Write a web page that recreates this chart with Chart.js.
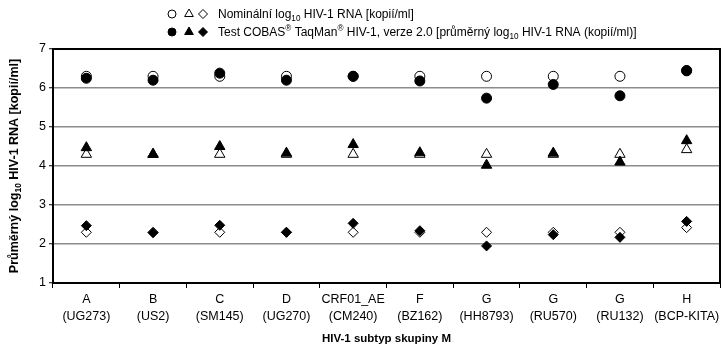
<!DOCTYPE html>
<html>
<head>
<meta charset="utf-8">
<script src="https://cdn.jsdelivr.net/npm/chart.js@4/dist/chart.umd.min.js"></script>
<style>
  html, body { margin: 0; padding: 0; background: #fff; }
  #wrap { width: 728px; height: 352px; }
</style>
</head>
<body>
<div id="wrap"><canvas id="graf" width="728" height="352"></canvas></div>
<script>
// kategorie (subtypy skupiny M)
var kategorie = [
  ['A', '(UG273)'], ['B', '(US2)'], ['C', '(SM145)'], ['D', '(UG270)'],
  ['CRF01_AE', '(CM240)'], ['F', '(BZ162)'], ['G', '(HH8793)'],
  ['G', '(RU570)'], ['G', '(RU132)'], ['H', '(BCP-KITA)']
];

// nominální hodnoty (prázdné symboly)
var nomKruh     = [6.3, 6.3, 6.3, 6.3, 6.3, 6.3, 6.3, 6.3, 6.3, 6.45];
var nomTrojuh   = [4.3, 4.3, 4.3, 4.3, 4.3, 4.3, 4.3, 4.3, 4.3, 4.42];
var nomKosoctv  = [2.3, 2.3, 2.3, 2.3, 2.3, 2.3, 2.3, 2.3, 2.3, 2.42];

// naměřené hodnoty testu (plné symboly)
var testKruh    = [6.25, 6.2, 6.38, 6.2, 6.3, 6.18, 5.74, 6.09, 5.8, 6.44];
var testTrojuh  = [4.47, 4.3, 4.5, 4.33, 4.55, 4.34, 4.02, 4.33, 4.1, 4.65];
var testKosoctv = [2.47, 2.29, 2.48, 2.3, 2.53, 2.34, 1.95, 2.24, 2.17, 2.58];

var yTicky = [1, 2, 3, 4, 5, 6, 7];

var PISMO = '"Liberation Sans", Arial, sans-serif';

function otevrena(data, styl, r) {
  return {
    data: data, showLine: false, pointStyle: styl, pointRadius: r,
    backgroundColor: '#fff', borderColor: '#000', borderWidth: 1, order: 2
  };
}
function plna(data, styl, r) {
  return {
    data: data, showLine: false, pointStyle: styl, pointRadius: r,
    backgroundColor: '#000', borderColor: '#000', borderWidth: 1, order: 1
  };
}

// vykreslí řadu textových kousků (normální / dolní / horní index)
function kusyTextu(ctx, kusy, x, y, vel, tucne) {
  kusy.forEach(function(k) {
    var v = k.t === 'n' ? vel : vel * 0.68;
    var dy = k.t === 'sub' ? vel * 0.25 : (k.t === 'sup' ? -vel * 0.38 : 0);
    ctx.font = (tucne ? 'bold ' : '') + v + 'px ' + PISMO;
    ctx.fillText(k.s, x, y + dy);
    x += ctx.measureText(k.s).width;
  });
  return x;
}
function sirkaTextu(ctx, kusy, vel, tucne) {
  var w = 0;
  kusy.forEach(function(k) {
    var v = k.t === 'n' ? vel : vel * 0.68;
    ctx.font = (tucne ? 'bold ' : '') + v + 'px ' + PISMO;
    w += ctx.measureText(k.s).width;
  });
  return w;
}

var popisky = {
  id: 'popisky',
  beforeDatasetsDraw: function(chart) {
    var ctx = chart.ctx, a = chart.chartArea;
    ctx.save();
    ctx.strokeStyle = '#000';
    ctx.lineWidth = 2;
    ctx.strokeRect(a.left, a.top, a.right - a.left, a.bottom - a.top);
    ctx.restore();
  },
  afterDraw: function(chart) {
    var ctx = chart.ctx, a = chart.chartArea;
    ctx.save();
    ctx.fillStyle = '#000';
    ctx.textBaseline = 'alphabetic';
    ctx.textAlign = 'left';

    // legenda
    var radky = [
      { y: 18, plne: false, kusy: [
        { s: 'Nominální log', t: 'n' }, { s: '10', t: 'sub' },
        { s: ' HIV-1 RNA [kopií/ml]', t: 'n' }] },
      { y: 36, plne: true, kusy: [
        { s: 'Test COBAS', t: 'n' }, { s: '®', t: 'sup' }, { s: ' TaqMan', t: 'n' },
        { s: '®', t: 'sup' }, { s: ' HIV-1, verze 2.0 [průměrný log', t: 'n' },
        { s: '10', t: 'sub' }, { s: ' HIV-1 RNA (kopií/ml)]', t: 'n' }] }
    ];
    radky.forEach(function(r) {
      var symboly = [['circle', 4, 172], ['triangle', 5, 189], ['rectRot', 4.5, 203]];
      symboly.forEach(function(s) {
        ctx.fillStyle = r.plne ? '#000' : '#fff';
        ctx.strokeStyle = '#000';
        ctx.lineWidth = 1;
        Chart.helpers.drawPoint(ctx, { pointStyle: s[0], radius: s[1], borderWidth: 1 }, s[2], r.y - 4);
      });
      ctx.fillStyle = '#000';
      kusyTextu(ctx, r.kusy, 218, r.y, 12, false);
    });

    // název osy x
    ctx.font = 'bold 11.5px ' + PISMO;
    ctx.textAlign = 'center';
    ctx.fillText('HIV-1 subtyp skupiny M', (a.left + a.right) / 2, 342);

    // název osy y (s dolním indexem)
    ctx.textAlign = 'left';
    var yKusy = [{ s: 'Průměrný log', t: 'n' }, { s: '10', t: 'sub' },
                 { s: ' HIV-1 RNA [kopií/ml]', t: 'n' }];
    var w = sirkaTextu(ctx, yKusy, 12.5, true);
    ctx.translate(18, (a.top + a.bottom) / 2);
    ctx.rotate(-Math.PI / 2);
    kusyTextu(ctx, yKusy, -w / 2, 0, 12.5, true);
    ctx.restore();
  }
};

new Chart(document.getElementById('graf').getContext('2d'), {
  type: 'line',
  data: {
    labels: kategorie,
    datasets: [
      plna(testKruh, 'circle', 5),
      plna(testTrojuh, 'triangle', 6),
      plna(testKosoctv, 'rectRot', 5),
      otevrena(nomKruh, 'circle', 5),
      otevrena(nomTrojuh, 'triangle', 6),
      otevrena(nomKosoctv, 'rectRot', 5)
    ]
  },
  options: {
    responsive: false,
    animation: false,
    layout: { padding: { left: 0, top: 49, right: 8, bottom: 0 } },
    plugins: { legend: { display: false }, tooltip: { enabled: false } },
    scales: {
      x: {
        offset: true,
        afterFit: function(s) { s.height = 69; },
        grid: { offset: true, drawOnChartArea: false, tickLength: 5, tickColor: '#000', tickWidth: 1 },
        border: { color: '#000', width: 2 },
        ticks: { color: '#000', font: { family: PISMO, size: 12.5, lineHeight: 1.35 }, padding: 3, maxRotation: 0, autoSkip: false }
      },
      y: {
        min: 1, max: 7,
        afterFit: function(s) { s.width = 53; },
        afterBuildTicks: function(s) { s.ticks = yTicky.map(function(v) { return { value: v }; }); },
        grid: { color: '#8c8c8c', lineWidth: 1.5, tickLength: 4, tickColor: '#000', tickWidth: 1 },
        border: { color: '#000', width: 2 },
        ticks: { color: '#000', font: { family: PISMO, size: 12.5 }, padding: 3 }
      }
    }
  },
  plugins: [popisky]
});
</script>
</body>
</html>
